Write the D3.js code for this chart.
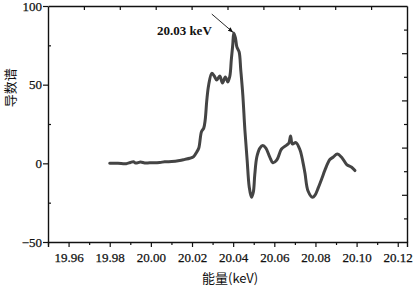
<!DOCTYPE html>
<html>
<head>
<meta charset="utf-8">
<script src="https://cdn.jsdelivr.net/npm/d3@7"></script>
<style>
  body { margin: 0; background: #fff; }
  svg text { font-family: "Liberation Serif", "DejaVu Serif", serif; fill: #111; }
  .cjk { font-family: "Noto Sans CJK SC", sans-serif !important; }
</style>
</head>
<body>
<svg id="chart"></svg>
<script>
// energy (keV) and derivative spectrum values
const energy = [
  19.980, 19.984, 19.988, 19.990, 19.9915, 19.9926, 19.9950, 19.9970, 19.9994, 20.0043,
  20.0067, 20.0101, 20.0140, 20.0165, 20.0189, 20.0208, 20.0223, 20.0233, 20.0246, 20.0257,
  20.0264, 20.0272, 20.0281, 20.0296, 20.0308, 20.0320, 20.0335, 20.0348, 20.0362, 20.0374,
  20.0384, 20.0391, 20.0398, 20.0403, 20.0411, 20.0418, 20.0429, 20.0437, 20.0447, 20.0457,
  20.0468, 20.0478, 20.0489, 20.0498, 20.0505, 20.0515, 20.0530, 20.0544, 20.0559, 20.0578,
  20.0593, 20.0612, 20.0635, 20.0660, 20.0671, 20.0679, 20.0688, 20.0705, 20.0725, 20.0739,
  20.0749, 20.0764, 20.0786, 20.0798, 20.0814, 20.0832, 20.0846, 20.0870, 20.0887, 20.0906,
  20.0928, 20.0952, 20.0976, 20.0992
];
const signal = [
  0, 0, -0.2, 0.5, 1.0, 0.2, 0.8, 0.2, 0.3, 0.5,
  1.0, 1.1, 1.8, 2.5, 3.2, 4.3, 7.2, 9.7, 20.1, 22.4,
  27.5, 40.2, 49.8, 57.2, 55.5, 53, 55.5, 51, 54.9, 51.7,
  55.5, 65.7, 75.2, 82.8, 79.7, 74, 70.8, 59.3, 43.4, 21.2,
  2.1, -14.9, -21.6, -18.3, -7.4, 4, 9.7, 11.3, 9.7, 4,
  0.4, 2.1, 9.1, 11.6, 12.9, 17.4, 12.3, 13.2, 8.5, 0.8,
  -6.2, -17.6, -21.6, -20.2, -15.4, -9.3, -4.3, 2.4, 4, 5.9,
  3.7, -0.8, -2.5, -4.6
];
const xTicks = [19.96, 19.98, 20.00, 20.02, 20.04, 20.06, 20.08, 20.10, 20.12];
const xMinor = [19.95, 19.97, 19.99, 20.01, 20.03, 20.05, 20.07, 20.09, 20.11];
const yTicks = [-50, 0, 50, 100];
const yMinor = [-25, 25, 75];
const peakLabel = "20.03 keV";
const peakX = 20.0403, peakY = 82.8;

const width = 415;
const height = 288;
const margin = { top: 6, right: 8, bottom: 46, left: 48 };
const iw = width - margin.left - margin.right;
const ih = height - margin.top - margin.bottom;

const svg = d3.select("#chart")
  .attr("width", width)
  .attr("height", height);

const g = svg.append("g")
  .attr("transform", `translate(${margin.left},${margin.top})`);

const x = d3.scaleLinear().domain([19.95, 20.1245]).range([0, iw]);
const y = d3.scaleLinear().domain([-50, 100]).range([ih, 0]);
// top and right frame axes carry 10 unlabeled divisions each
const xTop = d3.scaleLinear().domain([0, 10]).range([0, iw]);
const yRight = d3.scaleLinear().domain([0, 10]).range([0, ih]);

function styleAxis(sel) {
  sel.select(".domain").attr("stroke", "#111").attr("stroke-width", 1.4);
  sel.selectAll(".tick line").attr("stroke", "#111").attr("stroke-width", 1.2);
  sel.selectAll(".tick text")
    .attr("font-size", 13)
    .attr("fill", "#111")
    .attr("stroke", "#111")
    .attr("stroke-width", 0.25);
}

// bottom axis
g.append("g")
  .attr("transform", `translate(0,${ih})`)
  .call(d3.axisBottom(x).tickValues(xTicks).tickFormat(d3.format(".2f")).tickSizeOuter(0).tickSize(5).tickPadding(6))
  .call(styleAxis);
g.append("g")
  .attr("transform", `translate(0,${ih})`)
  .call(d3.axisBottom(x).tickValues(xMinor).tickFormat("").tickSize(3).tickSizeOuter(0))
  .call(styleAxis)
  .select(".domain").remove();

// left axis
g.append("g")
  .call(d3.axisLeft(y).tickValues(yTicks).tickSize(5).tickSizeOuter(0).tickPadding(1))
  .call(styleAxis)
  .selectAll(".tick text").text(d => d < 0 ? "\u2212" + Math.abs(d) : d);
g.append("g")
  .call(d3.axisLeft(y).tickValues(yMinor).tickFormat("").tickSize(-3).tickSizeOuter(0))
  .call(styleAxis)
  .select(".domain").remove();

// top axis (ticks inward)
g.append("g")
  .call(d3.axisTop(xTop).tickValues(d3.range(1, 10)).tickFormat("").tickSize(-4).tickSizeOuter(0))
  .call(styleAxis);

// right axis (ticks inward, alternating length)
g.append("g")
  .attr("transform", `translate(${iw},0)`)
  .call(d3.axisRight(yRight).tickValues(d3.range(1, 10)).tickFormat("").tickSize(-3).tickSizeOuter(0))
  .call(styleAxis)
  .selectAll(".tick line")
  .attr("x2", d => d % 2 === 0 ? -5 : -3);

// curve
const pts = energy.map((e, i) => [e, signal[i]]);
const line = d3.line()
  .x(d => x(d[0]))
  .y(d => y(d[1]))
  .curve(d3.curveCatmullRom.alpha(0.5));

g.append("path")
  .datum(pts)
  .attr("fill", "none")
  .attr("stroke", "#444")
  .attr("stroke-width", 3)
  .attr("stroke-linejoin", "round")
  .attr("stroke-linecap", "round")
  .attr("d", line);

// annotation arrow
svg.append("defs").append("marker")
  .attr("id", "arrow")
  .attr("viewBox", "0 0 10 10")
  .attr("refX", 9)
  .attr("refY", 5)
  .attr("markerWidth", 6)
  .attr("markerHeight", 6)
  .attr("orient", "auto")
  .append("path")
  .attr("d", "M0,1 L10,5 L0,9 Z")
  .attr("fill", "#111");

const tipX = x(peakX) - 1, tipY = y(peakY) - 1;
g.append("line")
  .attr("x1", tipX - 21)
  .attr("y1", tipY - 18)
  .attr("x2", tipX)
  .attr("y2", tipY)
  .attr("stroke", "#111")
  .attr("stroke-width", 0.9)
  .attr("marker-end", "url(#arrow)");

g.append("text")
  .attr("x", tipX - 21)
  .attr("y", tipY + 3)
  .attr("text-anchor", "end")
  .attr("font-size", 13)
  .attr("font-weight", "bold")
  .text(peakLabel);

// axis titles
svg.append("text")
  .attr("class", "cjk")
  .attr("x", margin.left + x(20.0385))
  .attr("y", 283)
  .attr("text-anchor", "middle")
  .attr("font-size", 13)
  .text("能量(keV)");

svg.append("text")
  .attr("class", "cjk")
  .attr("transform", `translate(15,${margin.top + y(48)}) rotate(-90)`)
  .attr("text-anchor", "middle")
  .attr("font-size", 13)
  .text("导数谱");
</script>
</body>
</html>
